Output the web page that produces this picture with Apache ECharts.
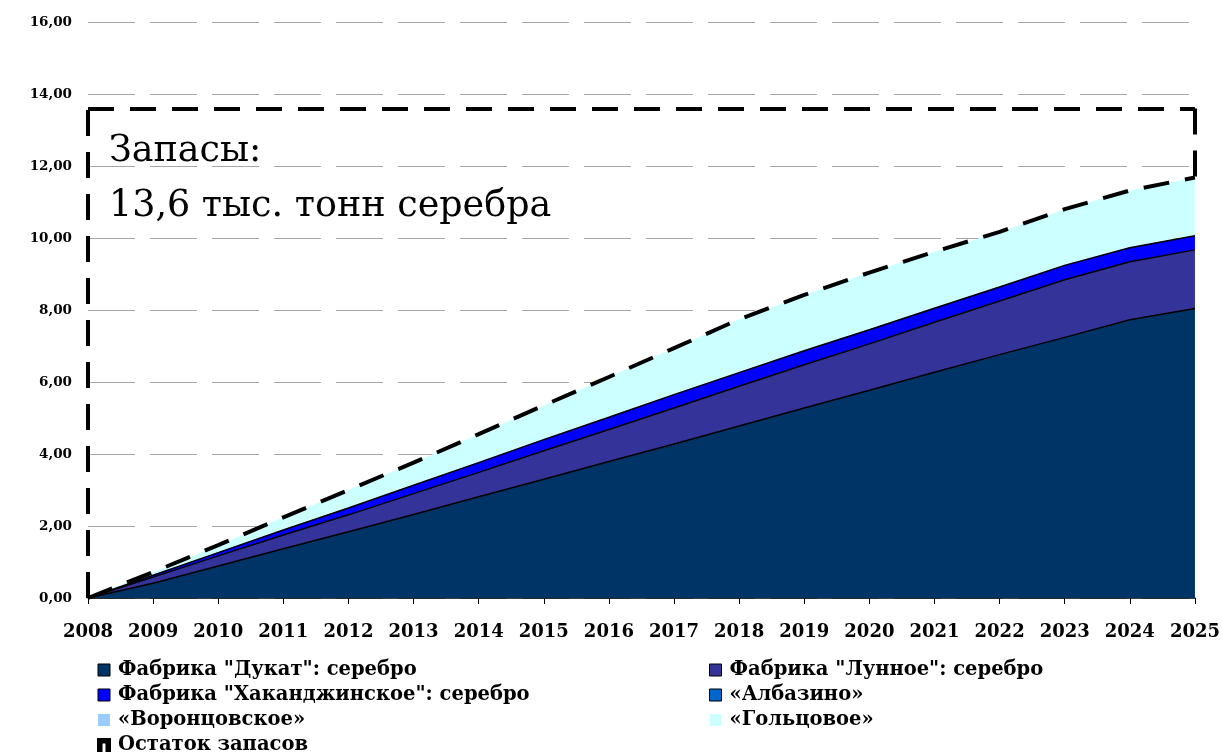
<!DOCTYPE html>
<html>
<head>
<meta charset="utf-8">
<title>Запасы серебра</title>
<script src="https://cdn.jsdelivr.net/npm/echarts@6/dist/echarts.min.js"></script>
<style>
  html, body { margin: 0; padding: 0; background: #fff; }
  #main { width: 1223px; height: 755px; }
</style>
</head>
<body>
<div id="main"></div>
<script>
// годы
const years = ['2008', '2009', '2010', '2011', '2012', '2013', '2014', '2015', '2016',
  '2017', '2018', '2019', '2020', '2021', '2022', '2023', '2024', '2025']

// накопленное производство, тыс. тонн
const dukat      = [0, 0.41, 0.89, 1.37, 1.84, 2.32, 2.81, 3.30, 3.79, 4.28, 4.78, 5.28, 5.77, 6.27, 6.76, 7.24, 7.73, 8.04]
const lunnoe     = [0, 0.17, 0.28, 0.38, 0.47, 0.58, 0.68, 0.79, 0.89, 1.00, 1.10, 1.20, 1.29, 1.39, 1.49, 1.60, 1.61, 1.63]
const khakan     = [0, 0.05, 0.09, 0.14, 0.19, 0.23, 0.27, 0.31, 0.34, 0.37, 0.38, 0.39, 0.39, 0.39, 0.39, 0.40, 0.39, 0.39]
const albazino   = [0, 0.005, 0.01, 0.01, 0.01, 0.01, 0.01, 0.01, 0.01, 0.01, 0.01, 0.01, 0.01, 0.01, 0.01, 0.01, 0.01, 0.01]
const vorontsov  = [0, 0.01, 0.015, 0.02, 0.02, 0.02, 0.02, 0.02, 0.02, 0.02, 0.02, 0.02, 0.02, 0.02, 0.02, 0.02, 0.02, 0.02]
const goltsovoe  = [0, 0.07, 0.18, 0.32, 0.47, 0.60, 0.76, 0.92, 1.09, 1.26, 1.45, 1.52, 1.56, 1.54, 1.50, 1.53, 1.56, 1.59]
// верхняя граница (остаток запасов), пунктир
const remaining  = [0, 0.72, 1.47, 2.24, 3.00, 3.76, 4.55, 5.35, 6.14, 6.94, 7.74, 8.42, 9.04, 9.62, 10.17, 10.80, 11.32, 11.68]
const reserves = 13.6

const yTicks = { min: 0, max: 16, interval: 2 }

const chart = echarts.init(document.getElementById('main'))

const serif = 'DejaVu Serif'
const dash = [26, 16]

function area(name, color, data, line) {
  return {
    name,
    type: 'line',
    stack: 'total',
    data,
    showSymbol: false,
    symbol: 'none',
    itemStyle: { color },
    lineStyle: line ? { color: '#000', width: 1.5 } : { width: 0, color },
    areaStyle: { color, opacity: 1 },
    emphasis: { disabled: true },
  }
}

const legendText = { fontFamily: serif, fontWeight: 'bold', fontSize: 19.5, lineHeight: 20, color: '#000', padding: [0, 0, 0, 3] }
const boxed = { borderColor: '#000', borderWidth: 1 }

const option = {
  animation: false,
  title: {
    text: 'Запасы:\n13,6 тыс. тонн серебра',
    left: 104,
    top: 119,
    textStyle: { fontFamily: serif, fontWeight: 'normal', fontSize: 36.5, lineHeight: 55, color: '#000' },
  },
  grid: { left: 88, right: 26, top: 22, bottom: 157 },
  legend: [
    {
      orient: 'vertical',
      left: 97,
      top: 660,
      padding: 0,
      itemWidth: 12,
      itemHeight: 12,
      itemGap: 5,
      textStyle: legendText,
      data: [
        { name: 'Фабрика "Дукат": серебро', icon: 'rect', itemStyle: boxed },
        { name: 'Фабрика "Хаканджинское": серебро', icon: 'rect', itemStyle: boxed },
        { name: '«Воронцовское»', icon: 'rect' },
        {
          name: 'Остаток запасов',
          icon: 'path://M0,0H12V12H8.5V3.5H3.5V12H0Z',
          itemStyle: { color: '#000', borderColor: '#000', borderWidth: 2 },
        },
      ],
    },
    {
      orient: 'vertical',
      left: 709,
      top: 660,
      padding: 0,
      itemWidth: 12,
      itemHeight: 12,
      itemGap: 5,
      textStyle: legendText,
      data: [
        { name: 'Фабрика "Лунное": серебро', icon: 'rect', itemStyle: boxed },
        { name: '«Албазино»', icon: 'rect', itemStyle: boxed },
        { name: '«Гольцовое»', icon: 'rect' },
      ],
    },
  ],
  xAxis: {
    type: 'category',
    boundaryGap: false,
    data: years,
    axisLine: { lineStyle: { color: '#000', width: 1.5 } },
    axisTick: { show: true, length: 6, lineStyle: { color: '#000' } },
    axisLabel: { fontFamily: serif, fontWeight: 'bold', fontSize: 18, color: '#000', margin: 25, interval: 0 },
    splitLine: { show: false },
  },
  yAxis: {
    type: 'value',
    min: yTicks.min,
    max: yTicks.max,
    interval: yTicks.interval,
    axisLine: { show: false },
    axisTick: { show: false },
    axisLabel: {
      fontFamily: serif, fontWeight: 'bold', fontSize: 13.5, color: '#000', margin: 16,
      formatter: v => v.toFixed(2).replace('.', ','),
    },
    splitLine: { lineStyle: { color: '#a6a6a6', width: 1, type: [47, 15] } },
  },
  series: [
    area('Фабрика "Дукат": серебро', '#003366', dukat, true),
    area('Фабрика "Лунное": серебро', '#333399', lunnoe, true),
    area('Фабрика "Хаканджинское": серебро', '#0000ff', khakan, true),
    area('«Албазино»', '#0066cc', albazino, false),
    area('«Воронцовское»', '#99ccff', vorontsov, false),
    area('«Гольцовое»', '#ccffff', goltsovoe, false),
    {
      name: 'Остаток запасов',
      type: 'line',
      data: remaining,
      showSymbol: false,
      symbol: 'none',
      z: 5,
      itemStyle: { color: '#000' },
      lineStyle: { color: '#000', width: 4, type: dash },
      emphasis: { disabled: true },
      markLine: {
        silent: true,
        symbol: 'none',
        label: { show: false },
        lineStyle: { color: '#000', width: 4, type: dash },
        data: [
          [{ coord: [years[0], 0] }, { coord: [years[0], reserves] }],
          [{ coord: [years[0], reserves] }, { coord: [years[years.length - 1], reserves] }],
          [{ coord: [years[years.length - 1], reserves] }, { coord: [years[years.length - 1], remaining[remaining.length - 1]] }],
        ],
      },
    },
  ],
}

chart.setOption(option)
</script>
</body>
</html>
